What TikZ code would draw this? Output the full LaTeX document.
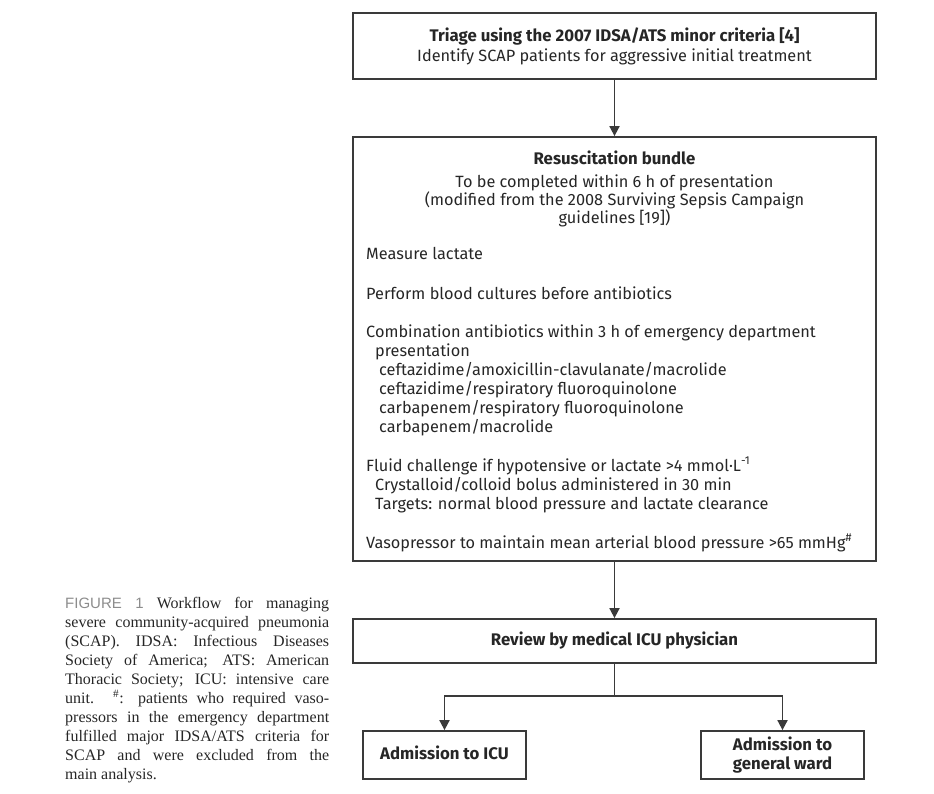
\documentclass[tikz,border=0pt]{standalone}
\usepackage{fontspec}
\setmainfont{Fira Sans}
\newfontfamily\capserif{Liberation Serif}
\newfontfamily\capsans{Liberation Sans}
\usetikzlibrary{arrows.meta}
\definecolor{ink}{HTML}{262626}
\definecolor{edge}{HTML}{3A3A3A}
\definecolor{capgrey}{HTML}{8C8C8C}
\begin{document}
\begin{tikzpicture}[x=1pt,y=-1pt,
  box/.style={draw=edge, line width=1.8pt, inner sep=0pt},
  txt/.style={anchor=base, inner sep=0pt, text=ink, font=\fontsize{16.3}{19}\selectfont},
  ltxt/.style={txt, anchor=base west},
  btxt/.style={txt, font=\fontsize{16.8}{19}\selectfont\bfseries},
  arr/.style={draw=edge, line width=1.8pt, -{Triangle[length=10pt,width=10pt]}},
  captxt/.style={anchor=base west, inner sep=0pt, text=ink, font=\capserif\fontsize{16}{19}\selectfont}
]
\useasboundingbox (0,0) rectangle (934,793);
% boxes
\node[box, minimum width=523pt, minimum height=66pt] (triage) at (614.5,46) {};
\node[box, minimum width=523pt, minimum height=424pt] (bundle) at (614.5,349) {};
\node[box, minimum width=523pt, minimum height=44pt] (review) at (614.5,641) {};
\node[box, minimum width=163pt, minimum height=48pt] (icu) at (444.5,755) {};
\node[box, minimum width=163pt, minimum height=48pt] (ward) at (782.5,755) {};
% box 1 text
\node[btxt] (t1) at (614.5,41) {Triage using the 2007 IDSA/ATS minor criteria [4]};
\node[txt] (t2) at (614.5,61) {Identify SCAP patients for aggressive initial treatment};
% box 2 text
\node[btxt] (b1) at (614.5,164) {Resuscitation bundle};
\node[txt] (b2) at (614.5,187) {To be completed within 6 h of presentation};
\node[txt] (b3) at (614.5,205) {(modified from the 2008 Surviving Sepsis Campaign};
\node[txt] (b4) at (614.5,223) {guidelines [19])};
\node[ltxt] (m1) at (366,259) {Measure lactate};
\node[ltxt] (m2) at (366,299) {Perform blood cultures before antibiotics};
\node[ltxt] (m3) at (366,337) {Combination antibiotics within 3 h of emergency department};
\node[ltxt] (m4) at (375,356) {presentation};
\node[ltxt] (c1) at (379,375) {ceftazidime/amoxicillin-clavulanate/macrolide};
\node[ltxt] (c2) at (379,394) {ceftazidime/respiratory fluoroquinolone};
\node[ltxt] (c3) at (379,413) {carbapenem/respiratory fluoroquinolone};
\node[ltxt] (c4) at (379,432) {carbapenem/macrolide};
\node[ltxt] (f1) at (366,471) {Fluid challenge if hypotensive or lactate >4 mmol·L\textsuperscript{-1}};
\node[ltxt] (f2) at (375,490) {Crystalloid/colloid bolus administered in 30 min};
\node[ltxt] (f3) at (375,509) {Targets: normal blood pressure and lactate clearance};
\node[ltxt] (v1) at (366,548) {Vasopressor to maintain mean arterial blood pressure >65 mmHg\textsuperscript{\#}};
% lower boxes text
\node[btxt] (r1) at (614.5,645) {Review by medical ICU physician};
\node[btxt] (i1) at (444.5,759) {Admission to ICU};
\node[btxt] (w1) at (782.5,750) {Admission to};
\node[btxt] (w2) at (782.5,769) {general ward};
% connectors
\coordinate (split) at (614.5,696);
\draw[arr] (triage.south) -- (bundle.north);
\draw[arr] (bundle.south) -- (review.north);
\draw[arr] (review.south) -- (split) -| (icu.north);
\draw[arr] (split) -| (ward.north);
% caption
\node[captxt] (k1) at (65,608.0) {\makebox[264pt][s]{{\capsans\color{capgrey}\fontsize{15}{19}\selectfont FIGURE 1} Workflow for managing}};
\node[captxt] (k2) at (65,627.1) {\makebox[264pt][s]{severe community-acquired pneumonia}};
\node[captxt] (k3) at (65,646.2) {\makebox[264pt][s]{(SCAP). IDSA: Infectious Diseases}};
\node[captxt] (k4) at (65,665.3) {\makebox[264pt][s]{Society of America; ATS: American}};
\node[captxt] (k5) at (65,684.4) {\makebox[264pt][s]{Thoracic Society; ICU: intensive care}};
\node[captxt] (k6) at (65,703.5) {\makebox[264pt][s]{unit. \textsuperscript{\#}: patients who required vaso-}};
\node[captxt] (k7) at (65,722.6) {\makebox[264pt][s]{pressors in the emergency department}};
\node[captxt] (k8) at (65,741.7) {\makebox[264pt][s]{fulfilled major IDSA/ATS criteria for}};
\node[captxt] (k9) at (65,760.8) {\makebox[264pt][s]{SCAP and were excluded from the}};
\node[captxt] (k10) at (65,779.9) {main analysis.};
\end{tikzpicture}
\end{document}
